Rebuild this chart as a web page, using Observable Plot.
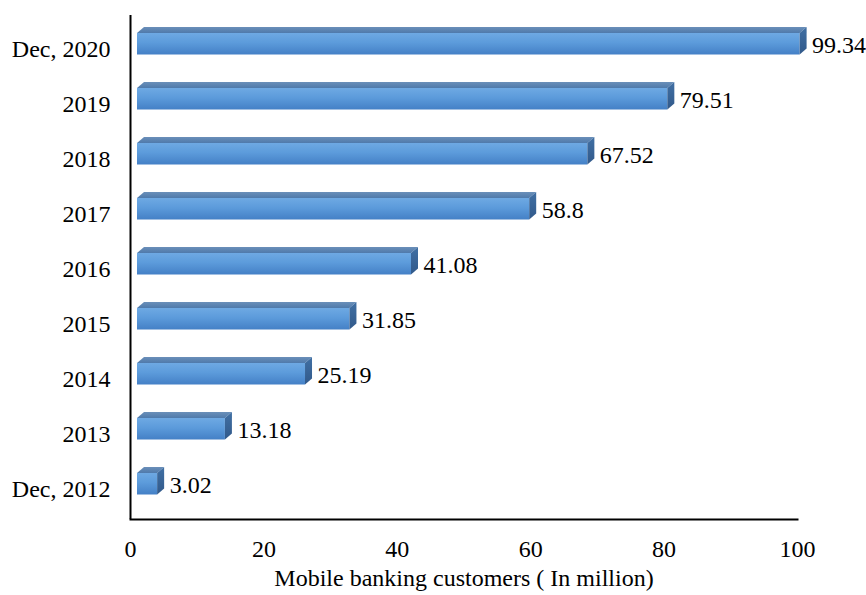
<!DOCTYPE html>
<html>
<head>
<meta charset="utf-8">
<script src="https://cdn.jsdelivr.net/npm/d3@7"></script>
<script src="https://cdn.jsdelivr.net/npm/@observablehq/plot@0.6"></script>
<style>
  body { margin: 0; background: #fff; }
</style>
</head>
<body>
<div id="chart"></div>
<script>
// Mobile banking customers by period (millions)
const periods = ["Dec, 2012", "2013", "2014", "2015", "2016", "2017", "2018", "2019", "Dec, 2020"];
const customers = [3.02, 13.18, 25.19, 31.85, 41.08, 58.8, 67.52, 79.51, 99.34];
const xTicks = [0, 20, 40, 60, 80, 100];
const axisTitle = "Mobile banking customers ( In million)";

const rows = periods.map((period, i) => ({period, customers: customers[i]}));

// Extrusion of the 3D bars, in pixels (right and up)
const DEPTH_X = 7, DEPTH_Y = 6;
const SVG_NS = "http://www.w3.org/2000/svg";

function polygon(points, fill) {
  const p = document.createElementNS(SVG_NS, "polygon");
  p.setAttribute("points", points.map(d => d.join(",")).join(" "));
  p.setAttribute("fill", fill);
  return p;
}

// Turns each flat bar into a prism: front face plus top and right side faces
function prism(index, scales, values, dimensions, context, next) {
  const g = next(index, scales, values, dimensions, context);
  for (const rect of Array.from(g.querySelectorAll("rect"))) {
    const x = +rect.getAttribute("x"), y = +rect.getAttribute("y");
    const w = +rect.getAttribute("width"), h = +rect.getAttribute("height");
    rect.setAttribute("fill", "url(#frontFace)");
    g.appendChild(polygon([[x, y], [x + w, y], [x + w + DEPTH_X, y - DEPTH_Y], [x + DEPTH_X, y - DEPTH_Y]], "url(#topFace)"));
    g.appendChild(polygon([[x + w, y], [x + w + DEPTH_X, y - DEPTH_Y], [x + w + DEPTH_X, y + h - DEPTH_Y], [x + w, y + h]], "url(#sideFace)"));
  }
  return g;
}

const chart = Plot.plot({
  width: 866,
  height: 595,
  marginTop: 15,
  marginBottom: 76,
  marginLeft: 130,
  marginRight: 69,
  style: {fontFamily: "'Liberation Serif', 'Times New Roman', serif", fontSize: "24px", color: "#000", background: "#fff"},
  x: {domain: [0, 100]},
  y: {type: "band", domain: periods.slice().reverse(), padding: 0, insetTop: 3, insetBottom: 1},
  marks: [
    Plot.barX(rows, {
      x: "customers",
      y: "period",
      dx: DEPTH_X,
      insetTop: 12,
      insetBottom: 21.5,
      fill: "#5b9bd5",
      render: prism
    }),
    Plot.text(rows, {
      x: "customers",
      y: "period",
      text: d => String(d.customers),
      textAnchor: "start",
      dx: 19,
      dy: -3.5,
      fill: "#000"
    }),
    Plot.axisY({tickSize: 0, tickPadding: 20, label: null}),
    Plot.axisX({ticks: xTicks, tickSize: 0, tickPadding: 20, label: null}),
    Plot.ruleX([0], {strokeWidth: 2, stroke: "#000"}),
    Plot.frame({anchor: "bottom", strokeWidth: 2, stroke: "#000"}),
    Plot.text([axisTitle], {frameAnchor: "bottom", dy: 66, text: d => d, fill: "#000"})
  ]
});

// Shading gradients for the prism faces
const defs = d3.select(chart).insert("defs", ":first-child");
function gradient(id, stops) {
  const lg = defs.append("linearGradient").attr("id", id)
    .attr("x1", 0).attr("y1", 0).attr("x2", 0).attr("y2", 1);
  for (const [offset, color] of stops) lg.append("stop").attr("offset", offset).attr("stop-color", color);
}
gradient("frontFace", [[0, "#6ea9e3"], [0.45, "#5c9bdb"], [1, "#4480c6"]]);
gradient("topFace", [[0, "#6a8fb9"], [1, "#4f7aab"]]);
gradient("sideFace", [[0, "#4170a4"], [1, "#31598a"]]);

document.getElementById("chart").appendChild(chart);
</script>
</body>
</html>
